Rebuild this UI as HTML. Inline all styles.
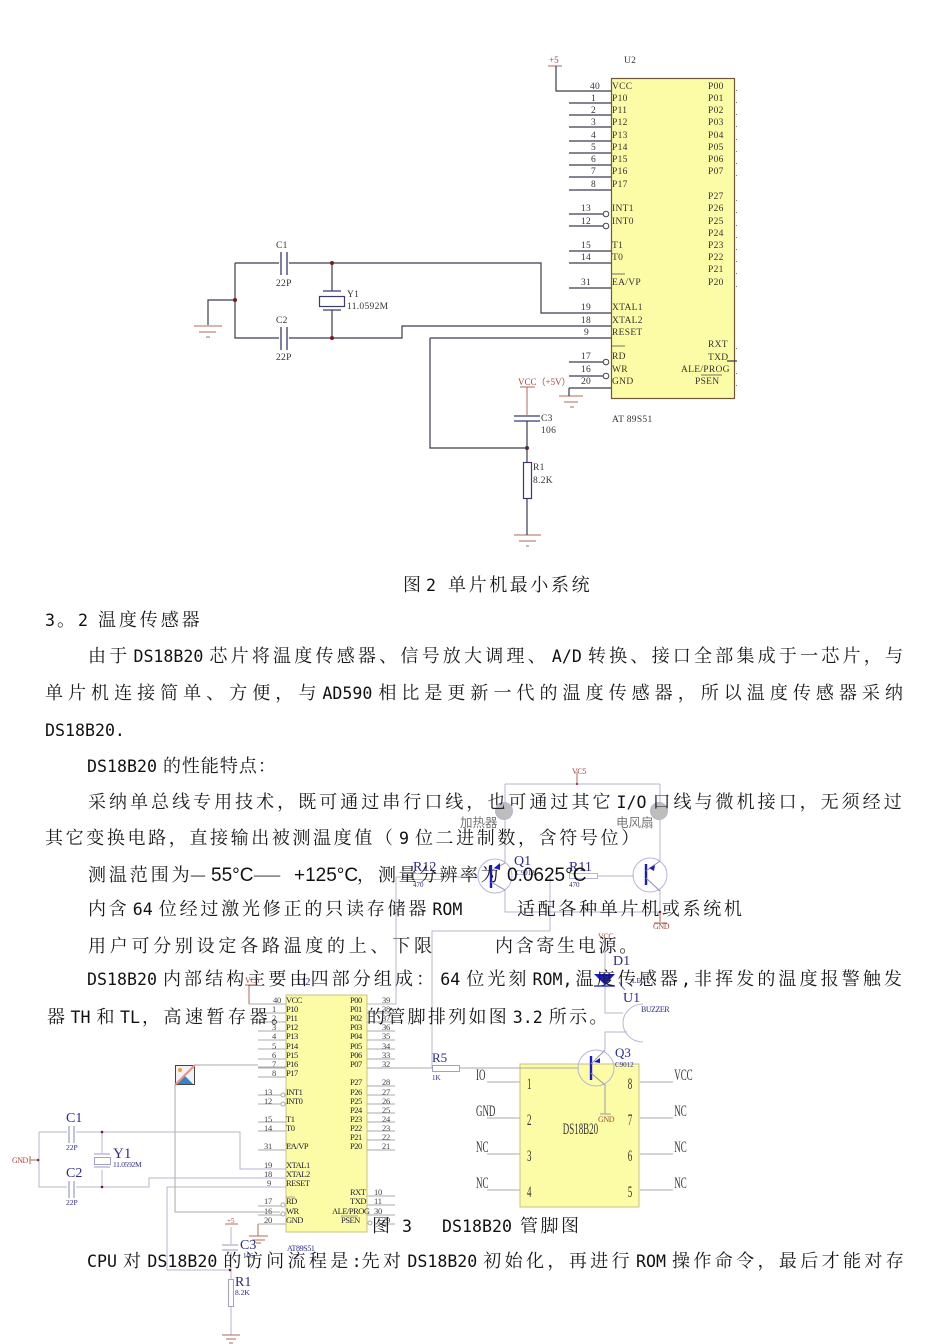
<!DOCTYPE html>
<html lang="zh"><head><meta charset="utf-8"><title>DS18B20</title>
<style>
html,body{margin:0;padding:0;background:#fff;width:950px;height:1344px;overflow:hidden}
svg{display:block}
.b{font-family:"Noto Serif CJK SC","Liberation Serif",serif;font-size:18px;fill:#1a1a1a}
.l{font-family:"DejaVu Sans Mono","Liberation Mono",monospace;font-size:16.6px;letter-spacing:0;fill:#111}
.s{font-family:"Liberation Sans",sans-serif;font-size:19px;fill:#111}
.a{font-family:"Liberation Serif",serif;font-size:9.5px;fill:#333;letter-spacing:.3px}
.c{font-family:"Liberation Serif",serif;font-size:8.5px;fill:#22223a;letter-spacing:-.5px}
.n{font-family:"Liberation Serif",serif;font-size:8.5px;fill:#444;letter-spacing:-.2px}
.blue{font-family:"Liberation Serif",serif;fill:#2a2a90}
.br{font-family:"Liberation Serif",serif;fill:#a04a40}
.w1{stroke:#3a3a50;stroke-width:1.2;fill:none}
.w2{stroke:#b4b4d0;stroke-width:1;fill:none}
.g{stroke:#a9a9a9;stroke-width:1;fill:none}
.r{stroke:#b06a5a;stroke-width:1;fill:none}
</style></head><body>
<svg width="950" height="1344" viewBox="0 0 950 1344" xmlns="http://www.w3.org/2000/svg">
<rect width="950" height="1344" fill="#fff"/>

<!-- FIG 2 -->
<g>
<path class="w1" d="M235 263H279M289 263H541V313H611M235 263V338H279M289 338H402V326H611M430 338H611M430 338V448H527M208 325V300H235"/>
<path d="M281 252V275M287 252V275M281 327V350M287 327V350" stroke="#3a3a70" stroke-width="1.3"/>
<path class="w1" d="M332 263V291M332 310V338"/>
<path d="M323 291H341M323 310H341" stroke="#3a3a70" stroke-width="1.2"/>
<rect x="319.5" y="296.5" width="25" height="10" fill="#fff" stroke="#3a3a70" stroke-width="1.2"/>
<g fill="#7a1a1a"><circle cx="235" cy="300" r="2"/><circle cx="332" cy="263" r="2"/><circle cx="332" cy="338" r="2"/><circle cx="527" cy="448" r="2"/></g>
<path class="r" d="M194 326H222M199 332H216M206 337H210M514 535H541M519 541H536M526 546H529M559 396H583M564 402H578M570 407H574M548 66H562"/>
<path class="r" d="M520 387H535M527 387V415"/>
<path class="w1" d="M569 388H611M569 388V396M527 421V462M527 498V535M556 66V91H611"/>
<path d="M514 416H540M514 421H540" stroke="#3a3a70" stroke-width="1.2"/>
<rect x="523.5" y="462.5" width="8" height="36" fill="#fff" stroke="#3a3a70" stroke-width="1.2"/>
<text class="a" x="276" y="248">C1</text><text class="a" x="276" y="286">22P</text>
<text class="a" x="276" y="323">C2</text><text class="a" x="276" y="360">22P</text>
<text class="a" x="347" y="297">Y1</text><text class="a" x="347" y="309">11.0592M</text>
<text class="a" x="541" y="421">C3</text><text class="a" x="541" y="433">106</text>
<text class="a" x="533" y="470">R1</text><text class="a" x="533" y="483">8.2K</text>
<text class="br" font-size="9" x="518" y="385">VCC（+5V）</text>
<text class="br" font-size="9" x="549" y="63">+5</text>
<text class="a" x="624" y="63">U2</text>
<text class="a" x="612" y="422">AT 89S51</text>

<rect x="611.5" y="78.5" width="123" height="320" fill="#fdfca6" stroke="#6e5a3a" stroke-width="1.2"/>
<path class="w1" d="M569 103H611M569 115H611M569 127H611M569 141H611M569 153H611M569 165H611M569 177H611M569 190H611M569 214H603M569 226H603M569 251H611M569 263H611M569 288H611M569 362H603M569 376H603M727 361H737"/>
<g fill="#fff" stroke="#444"><circle cx="606" cy="214" r="2.8"/><circle cx="606" cy="226" r="2.8"/><circle cx="606" cy="362" r="2.8"/><circle cx="606" cy="376" r="2.8"/></g>
<g>
<text class="a" x="612" y="89">VCC</text><text class="a" x="612" y="101">P10</text><text class="a" x="612" y="113">P11</text><text class="a" x="612" y="125">P12</text><text class="a" x="612" y="138">P13</text><text class="a" x="612" y="150">P14</text><text class="a" x="612" y="162">P15</text><text class="a" x="612" y="174">P16</text><text class="a" x="612" y="187">P17</text>
<text class="a" x="612" y="211">INT1</text><text class="a" x="612" y="224">INT0</text><text class="a" x="612" y="248">T1</text><text class="a" x="612" y="260">T0</text><text class="a" x="612" y="285">EA/VP</text>
<text class="a" x="612" y="310">XTAL1</text><text class="a" x="612" y="323">XTAL2</text><text class="a" x="612" y="335">RESET</text><text class="a" x="612" y="359">RD</text><text class="a" x="612" y="372">WR</text><text class="a" x="612" y="384">GND</text>
<text class="a" x="708" y="89">P00</text><text class="a" x="708" y="101">P01</text><text class="a" x="708" y="113">P02</text><text class="a" x="708" y="125">P03</text><text class="a" x="708" y="138">P04</text><text class="a" x="708" y="150">P05</text><text class="a" x="708" y="162">P06</text><text class="a" x="708" y="174">P07</text>
<text class="a" x="708" y="199">P27</text><text class="a" x="708" y="211">P26</text><text class="a" x="708" y="224">P25</text><text class="a" x="708" y="236">P24</text><text class="a" x="708" y="248">P23</text><text class="a" x="708" y="260">P22</text><text class="a" x="708" y="272">P21</text><text class="a" x="708" y="285">P20</text>
<text class="a" x="708" y="347">RXT</text><text class="a" x="708" y="360">TXD</text><text class="a" x="681" y="372">ALE/PROG</text><text class="a" x="695" y="384">PSEN</text>
<text class="a" x="590" y="89">40</text><text class="a" x="591" y="101">1</text><text class="a" x="591" y="113">2</text><text class="a" x="591" y="125">3</text><text class="a" x="591" y="138">4</text><text class="a" x="591" y="150">5</text><text class="a" x="591" y="162">6</text><text class="a" x="591" y="174">7</text><text class="a" x="591" y="187">8</text>
<text class="a" x="581" y="211">13</text><text class="a" x="581" y="224">12</text><text class="a" x="581" y="248">15</text><text class="a" x="581" y="260">14</text><text class="a" x="581" y="285">31</text><text class="a" x="581" y="310">19</text><text class="a" x="581" y="323">18</text><text class="a" x="584" y="335">9</text><text class="a" x="581" y="359">17</text><text class="a" x="581" y="372">16</text><text class="a" x="581" y="384">20</text>
</g>
<path d="M612 274H625M612 346H625M701 375H722" stroke="#444" stroke-width=".8"/>
<g fill="#777"><rect x="736" y="90" width="1" height="1"/><rect x="736" y="102" width="1" height="1"/><rect x="736" y="114" width="1" height="1"/><rect x="736" y="126" width="1" height="1"/><rect x="736" y="139" width="1" height="1"/><rect x="736" y="151" width="1" height="1"/><rect x="736" y="163" width="1" height="1"/><rect x="736" y="175" width="1" height="1"/><rect x="736" y="200" width="1" height="1"/><rect x="736" y="212" width="1" height="1"/><rect x="736" y="225" width="1" height="1"/><rect x="736" y="237" width="1" height="1"/><rect x="736" y="249" width="1" height="1"/><rect x="736" y="261" width="1" height="1"/><rect x="736" y="273" width="1" height="1"/><rect x="736" y="286" width="1" height="1"/><rect x="736" y="348" width="1" height="1"/><rect x="736" y="373" width="1" height="1"/><rect x="736" y="385" width="1" height="1"/></g>
</g>

<!-- Heater / fan -->
<path class="w2" d="M505 784H660M505 784V863M660 784V861M505 889V912H660M660 890V912M396 877V1004H367M396 877H413M441 877H478M597 876H634M550 876V931H432V1068"/>
<circle cx="504" cy="811" r="8.5" fill="#bdbdbd" stroke="#b4b4d0"/>
<circle cx="659" cy="811" r="8.5" fill="#bdbdbd" stroke="#b4b4d0"/>
<circle cx="495" cy="876" r="17" fill="none" stroke="#b4b4e0"/>
<circle cx="650" cy="875" r="17" fill="none" stroke="#b4b4e0"/>
<path d="M491 865V888M646 864V885" stroke="#1a1ac8" stroke-width="2.4"/>
<path d="M491 871L505 863M491 882L505 890M646 871L660 861M646 878L660 891" stroke="#8a8ab8" fill="none"/>
<path d="M494 868L500 863 500 870ZM649 868L655 865 654 871Z" fill="#1a1ac8"/>
<rect x="413.5" y="873.5" width="28" height="6" fill="none" stroke="#b4b4d0"/>
<rect x="569.5" y="873.5" width="28" height="5" fill="none" stroke="#b4b4d0"/>
<path class="r" d="M577 772V784M660 912V922M654 923H667"/>
<circle cx="577" cy="784" r="1" fill="#7a1a1a"/><circle cx="660" cy="912" r="1.2" fill="#7a1a1a"/>
<text class="br" font-size="8" x="572" y="774" letter-spacing="-.4">VC5</text>
<text class="br" font-size="8" x="653" y="929" letter-spacing="-.4">GND</text>
<text x="460" y="827" style="font-family:'Noto Sans CJK SC',sans-serif;font-size:12.500px;fill:#777">加热器</text>
<text x="616" y="827" style="font-family:'Noto Sans CJK SC',sans-serif;font-size:12.500px;fill:#777">电风扇</text>
<text class="blue" font-size="14" x="514" y="865">Q1</text><text class="blue" font-size="7" x="516" y="875">C9012</text>
<text class="blue" font-size="14" x="413" y="871">R12</text><text class="blue" font-size="7" x="413" y="887">470</text>
<text class="blue" font-size="14" x="569" y="871">R11</text><text class="blue" font-size="7" x="569" y="887">470</text>

<!-- Buzzer -->
<path class="w2" d="M605 945V1013H623M605 1050V1032H627"/>
<path d="M643 1004A20 19 0 0 0 643 1042" fill="none" stroke="#b4b4e0"/>
<path d="M594 974H615L605 985Z" fill="#1a1ac8"/>
<path d="M594 986H615" stroke="#1a1ac8" stroke-width="1.2"/>
<path d="M619 982L623 988M625 990L621 985" stroke="#6a6ad0" fill="none"/>
<text class="br" font-size="8" x="598" y="939" letter-spacing="-.4">VCC</text>
<text class="blue" font-size="14" x="613" y="965">D1</text>
<text class="blue" font-size="7" x="632" y="983">LED1</text>
<text class="blue" font-size="14" x="623" y="1002">U1</text>
<text class="blue" font-size="8" x="641" y="1012" letter-spacing="-.5">BUZZER</text>

<!-- Chip 3 -->
<path class="g" d="M258 1013H286M258 1022H286M258 1031H286M258 1040H286M258 1049H286M258 1059H286M258 1068H286M258 1077H286M258 1095H282M258 1104H282M258 1122H286M258 1131H286M258 1150H286M258 1215H282M258 1206H282M367 1013H395M367 1022H395M367 1031H395M367 1040H395M367 1049H395M367 1059H395M367 1068H395M367 1086H395M367 1095H395M367 1104H395M367 1113H395M367 1122H395M367 1131H395M367 1140H395M367 1150H395M367 1196H395M367 1205H395M367 1215H395M374 1224H395"/>
<path class="r" d="M249 985V1004M245 985H258"/>
<path class="g" d="M249 1004H286"/>
<path class="r" d="M258 1224V1236M249 1236H268M252 1240H265M256 1243H261"/>
<path class="g" d="M258 1224H286"/>
<rect x="286" y="995" width="81" height="237" fill="#fdfca6" stroke="#c8c08a"/>
<circle cx="370" cy="1223" r="2" fill="#fff" stroke="#aaa"/>
<g fill="#fff" stroke="#aaa"><circle cx="283" cy="1095" r="2"/><circle cx="283" cy="1104" r="2"/><circle cx="283" cy="1205" r="2"/><circle cx="283" cy="1214" r="2"/></g>
<text class="c" x="286" y="1003">VCC</text><text class="c" x="286" y="1012">P10</text><text class="c" x="286" y="1021">P11</text><text class="c" x="286" y="1030">P12</text><text class="c" x="286" y="1039">P13</text><text class="c" x="286" y="1049">P14</text><text class="c" x="286" y="1058">P15</text><text class="c" x="286" y="1067">P16</text><text class="c" x="286" y="1076">P17</text>
<text class="c" x="286" y="1095">INT1</text><text class="c" x="286" y="1104">INT0</text><text class="c" x="286" y="1122">T1</text><text class="c" x="286" y="1131">T0</text><text class="c" x="286" y="1149">EA/VP</text><text class="c" x="286" y="1168">XTAL1</text><text class="c" x="286" y="1177">XTAL2</text><text class="c" x="286" y="1186">RESET</text><text class="c" x="286" y="1204">RD</text><text class="c" x="286" y="1214">WR</text><text class="c" x="286" y="1223">GND</text>
<text class="c" x="350" y="1003">P00</text><text class="c" x="350" y="1012">P01</text><text class="c" x="350" y="1021">P02</text><text class="c" x="350" y="1030">P03</text><text class="c" x="350" y="1039">P04</text><text class="c" x="350" y="1049">P05</text><text class="c" x="350" y="1058">P06</text><text class="c" x="350" y="1067">P07</text>
<text class="c" x="350" y="1085">P27</text><text class="c" x="350" y="1095">P26</text><text class="c" x="350" y="1104">P25</text><text class="c" x="350" y="1113">P24</text><text class="c" x="350" y="1122">P23</text><text class="c" x="350" y="1131">P22</text><text class="c" x="350" y="1140">P21</text><text class="c" x="350" y="1149">P20</text>
<text class="c" x="350" y="1195">RXT</text><text class="c" x="350" y="1204">TXD</text><text class="c" x="332" y="1214">ALE/PROG</text><text class="c" x="341" y="1223">PSEN</text>
<path d="M286 1145H295M286 1197H295M341 1216H358" stroke="#555" stroke-width=".6"/>
<text class="n" x="273" y="1003">40</text><text class="n" x="272" y="1012">1</text><text class="n" x="272" y="1021">2</text><text class="n" x="272" y="1030">3</text><text class="n" x="272" y="1039">4</text><text class="n" x="272" y="1049">5</text><text class="n" x="272" y="1058">6</text><text class="n" x="272" y="1067">7</text><text class="n" x="272" y="1076">8</text>
<text class="n" x="264" y="1095">13</text><text class="n" x="264" y="1104">12</text><text class="n" x="264" y="1122">15</text><text class="n" x="264" y="1131">14</text><text class="n" x="264" y="1149">31</text><text class="n" x="264" y="1168">19</text><text class="n" x="264" y="1177">18</text><text class="n" x="267" y="1186">9</text><text class="n" x="264" y="1204">17</text><text class="n" x="264" y="1214">16</text><text class="n" x="264" y="1223">20</text>
<text class="n" x="382" y="1003">39</text><text class="n" x="382" y="1012">38</text><text class="n" x="382" y="1021">37</text><text class="n" x="382" y="1030">36</text><text class="n" x="382" y="1039">35</text><text class="n" x="382" y="1049">34</text><text class="n" x="382" y="1058">33</text><text class="n" x="382" y="1067">32</text>
<text class="n" x="382" y="1085">28</text><text class="n" x="382" y="1095">27</text><text class="n" x="382" y="1104">26</text><text class="n" x="382" y="1113">25</text><text class="n" x="382" y="1122">24</text><text class="n" x="382" y="1131">23</text><text class="n" x="382" y="1140">22</text><text class="n" x="382" y="1149">21</text>
<text class="n" x="374" y="1195">10</text><text class="n" x="374" y="1204">11</text><text class="n" x="374" y="1214">30</text><text class="n" x="382" y="1223">29</text>
<text class="br" font-size="8" x="245" y="983" letter-spacing="-.4">VC5</text>
<text class="blue" font-size="11" x="297" y="985">U2</text>
<text class="blue" font-size="8" x="287" y="1251" letter-spacing="-.4">AT89S51</text>

<!-- left side of chip 3 -->
<rect x="175.5" y="1065.5" width="19" height="19" fill="#f2f2f2" stroke="#444"/>
<path d="M177 1084L184 1075 193 1084Z" fill="#2e88c8"/>
<circle cx="180" cy="1070" r="2" fill="#e8a048"/>
<path d="M175 1085L195 1065" stroke="#e89090" stroke-width="2"/>
<path class="g" d="M195 1065H258M258 1067H286M175 1085V1212H258M258 1212H280"/>
<path class="w2" d="M39 1132H67M76 1132H240V1169H286M39 1132V1187H67M76 1187H149V1178H286M102 1132V1153M102 1170V1187M167 1187H286M167 1187V1270H230M231 1227V1244M231 1252V1279M231 1306V1335"/>
<path d="M69 1126V1143M74 1126V1143M69 1181V1198M74 1181V1198" stroke="#9a9ac0" stroke-width="1.2"/>
<path d="M94 1154H110M94 1167H110" stroke="#9a9ac0"/>
<rect x="94.500" y="1157.500" width="16" height="7" fill="none" stroke="#a0a0c8"/>
<g fill="#7a1a1a"><circle cx="102" cy="1132" r="1.3"/><circle cx="102" cy="1187" r="1.300"/><circle cx="38" cy="1160" r="1.300"/><circle cx="230" cy="1270" r="1.300"/></g>
<path class="r" d="M30 1156V1164M30 1160H38"/>
<path d="M222 1245H238M222 1250H238" stroke="#9a9ac0"/>
<rect x="228.500" y="1279.500" width="5" height="27" fill="none" stroke="#a0a0c8"/>
<path class="r" d="M225 1224H238M222 1335H240M226 1339H236M229 1343H233"/>
<text class="br" font-size="8" x="12" y="1163" letter-spacing="-.5">GND</text>
<text class="br" font-size="7" x="227" y="1223">+5</text>
<text class="blue" font-size="14" x="66" y="1122">C1</text><text class="blue" font-size="7.500" x="66" y="1150">22P</text>
<text class="blue" font-size="14" x="66" y="1177">C2</text><text class="blue" font-size="7.500" x="66" y="1205">22P</text>
<text class="blue" font-size="15" x="113" y="1158">Y1</text><text class="blue" font-size="7.500" x="113" y="1167" letter-spacing="-.3">11.0592M</text>
<text class="blue" font-size="14" x="240" y="1249">C3</text><text class="blue" font-size="7" x="243" y="1258">106</text>
<text class="blue" font-size="14" x="235" y="1286">R1</text><text class="blue" font-size="7.500" x="235" y="1295">8.2K</text>

<!-- DS18B20 chip -->
<rect x="520" y="1064" width="119" height="143" fill="#fdfca6" stroke="#c8c08a"/>
<path class="g" d="M487 1082H520M487 1118H520M487 1154H520M487 1190H520M640 1082H673M640 1118H673M640 1154H673M640 1190H673"/>
<g transform="scale(.56 1)" style="font-family:'Liberation Serif',serif;font-size:16px;fill:#333">
<text x="850" y="1080">IO</text><text x="850" y="1116">GND</text><text x="850" y="1152">NC</text><text x="850" y="1188">NC</text>
<text x="1204" y="1080">VCC</text><text x="1204" y="1116">NC</text><text x="1204" y="1152">NC</text><text x="1204" y="1188">NC</text>
<text x="1005" y="1134">DS18B20</text>
<text x="941" y="1089">1</text><text x="941" y="1125">2</text><text x="941" y="1161">3</text><text x="941" y="1197">4</text>
<text x="1121" y="1089">8</text><text x="1121" y="1125">7</text><text x="1121" y="1161">6</text><text x="1121" y="1197">5</text>
</g>
<path class="g" d="M367 1068H432M460 1068H578"/>
<rect x="432.500" y="1065.500" width="27" height="6" fill="none" stroke="#a0a0c8"/>
<text class="blue" font-size="13" x="432" y="1062">R5</text><text class="blue" font-size="7" x="432" y="1080">1K</text>
<circle cx="596" cy="1068" r="18" fill="none" stroke="#b4b4e0"/>
<path d="M591 1056V1080" stroke="#1a1ac8" stroke-width="2.400"/>
<path d="M591 1064L605 1050M591 1073L605 1085V1114M600 1114H611" stroke="#9a9aa8" fill="none"/>
<path d="M594 1062L600 1058 600 1063Z" fill="#1a1ac8"/>
<text class="blue" font-size="13" x="615" y="1057">Q3</text><text class="blue" font-size="7" x="615" y="1067">C9012</text>
<text class="br" font-size="8" x="598" y="1122" letter-spacing="-.4">GND</text>

<!-- BODY TEXT -->
<text class="b" x="403" y="591">图<tspan class="l" x="426">2</tspan><tspan x="448" style="letter-spacing:2.600px">单片机最小系统</tspan></text>
<text class="b" x="45" y="626"><tspan class="l">3</tspan><tspan x="57">。</tspan><tspan class="l" x="78">2</tspan><tspan x="98" style="letter-spacing:2.900px">温度传感器</tspan></text>

<text class="b" x="88" y="662" style="letter-spacing:3.220px">由于<tspan class="l" dx="3">DS18B20</tspan><tspan dx="6">芯片将温度传感器、信号放大调理、</tspan><tspan class="l" dx="3">A/D</tspan><tspan dx="6">转换、接口全部集成于一芯片，与</tspan></text>
<text class="b" x="45" y="699" style="letter-spacing:5.030px">单片机连接简单、方便，与<tspan class="l" dx="1">AD590</tspan><tspan dx="6">相比是更新一代的温度传感器，所以温度传感器采纳</tspan></text>
<text class="l" x="45" y="736">DS18B20.</text>
<text class="b" x="87" y="772" style="letter-spacing:1px"><tspan class="l">DS18B20</tspan><tspan dx="6">的性能特点：</tspan></text>
<text class="b" x="88" y="808" style="letter-spacing:3.020px">采纳单总线专用技术，既可通过串行口线，也可通过其它<tspan class="l" dx="3">I/O</tspan><tspan dx="6">口线与微机接口，无须经过</tspan></text>
<text class="b" x="45" y="844" style="letter-spacing:2.620px">其它变换电路，直接输出被测温度值（<tspan class="l" dx="3.400">9</tspan><tspan dx="6">位二进制数，含符号位）</tspan></text>

<text class="b" y="881" x="88" style="letter-spacing:2.900px">测温范围为</text>
<text class="b" y="881" x="190">—</text><text class="s" y="881" x="211">55°C</text>
<text class="b" y="881" x="253" textLength="28" lengthAdjust="spacingAndGlyphs">——</text>
<text class="s" y="881" x="294">+125°C</text>
<text class="b" y="881" x="357">，</text>
<text class="b" y="881" x="378" style="letter-spacing:2.500px">测量分辨率为</text>
<text class="s" y="881" x="507">0.0625°C</text>

<text class="b" x="88" y="915" style="letter-spacing:2.800px">内含<tspan class="l" dx="3.200">64</tspan><tspan dx="6">位经过激光修正的只读存储器</tspan><tspan class="l" dx="3.200">ROM</tspan></text>
<text class="b" x="517" y="915" style="letter-spacing:2.700px">适配各种单片机或系统机</text>
<text class="b" x="88" y="952" style="letter-spacing:3.730px">用户可分别设定各路温度的上、下限</text>
<text class="b" x="495" y="952" style="letter-spacing:2.700px">内含寄生电源。</text>
<text class="b" x="87" y="985" style="letter-spacing:3.100px"><tspan class="l">DS18B20</tspan><tspan dx="6">内部结构主要由四部分组成：</tspan><tspan class="l" dx="3">64</tspan><tspan dx="6">位光刻</tspan><tspan class="l" dx="3">ROM,</tspan><tspan dx="3">温度传感器</tspan><tspan class="l">,</tspan><tspan dx="3">非挥发的温度报警触发</tspan></text>
<text class="b" x="47" y="1023" style="letter-spacing:3.500px">器<tspan class="l" dx="2">TH</tspan><tspan dx="6">和</tspan><tspan class="l" dx="2">TL</tspan><tspan dx="2">，高速暂存器。</tspan></text>
<text class="b" x="367" y="1023" style="letter-spacing:2.300px">的管脚排列如图<tspan class="l" dx="3.700">3.2</tspan><tspan dx="6">所示。</tspan></text>
<text class="b" x="372" y="1232">图</text><text class="l" x="402" y="1232">3</text><text class="l" x="442" y="1232">DS18B20</text><text class="b" x="520" y="1232" style="letter-spacing:2.500px">管脚图</text>
<text class="b" x="87" y="1267" style="letter-spacing:3.380px"><tspan class="l">CPU</tspan><tspan dx="6">对</tspan><tspan class="l" dx="3">DS18B20</tspan><tspan dx="6">的访问流程是</tspan><tspan class="l">:</tspan><tspan dx="0">先对</tspan><tspan class="l" dx="3">DS18B20</tspan><tspan dx="6">初始化，再进行</tspan><tspan class="l" dx="3">ROM</tspan><tspan dx="6">操作命令，最后才能对存</tspan></text>
</svg>
</body></html>
